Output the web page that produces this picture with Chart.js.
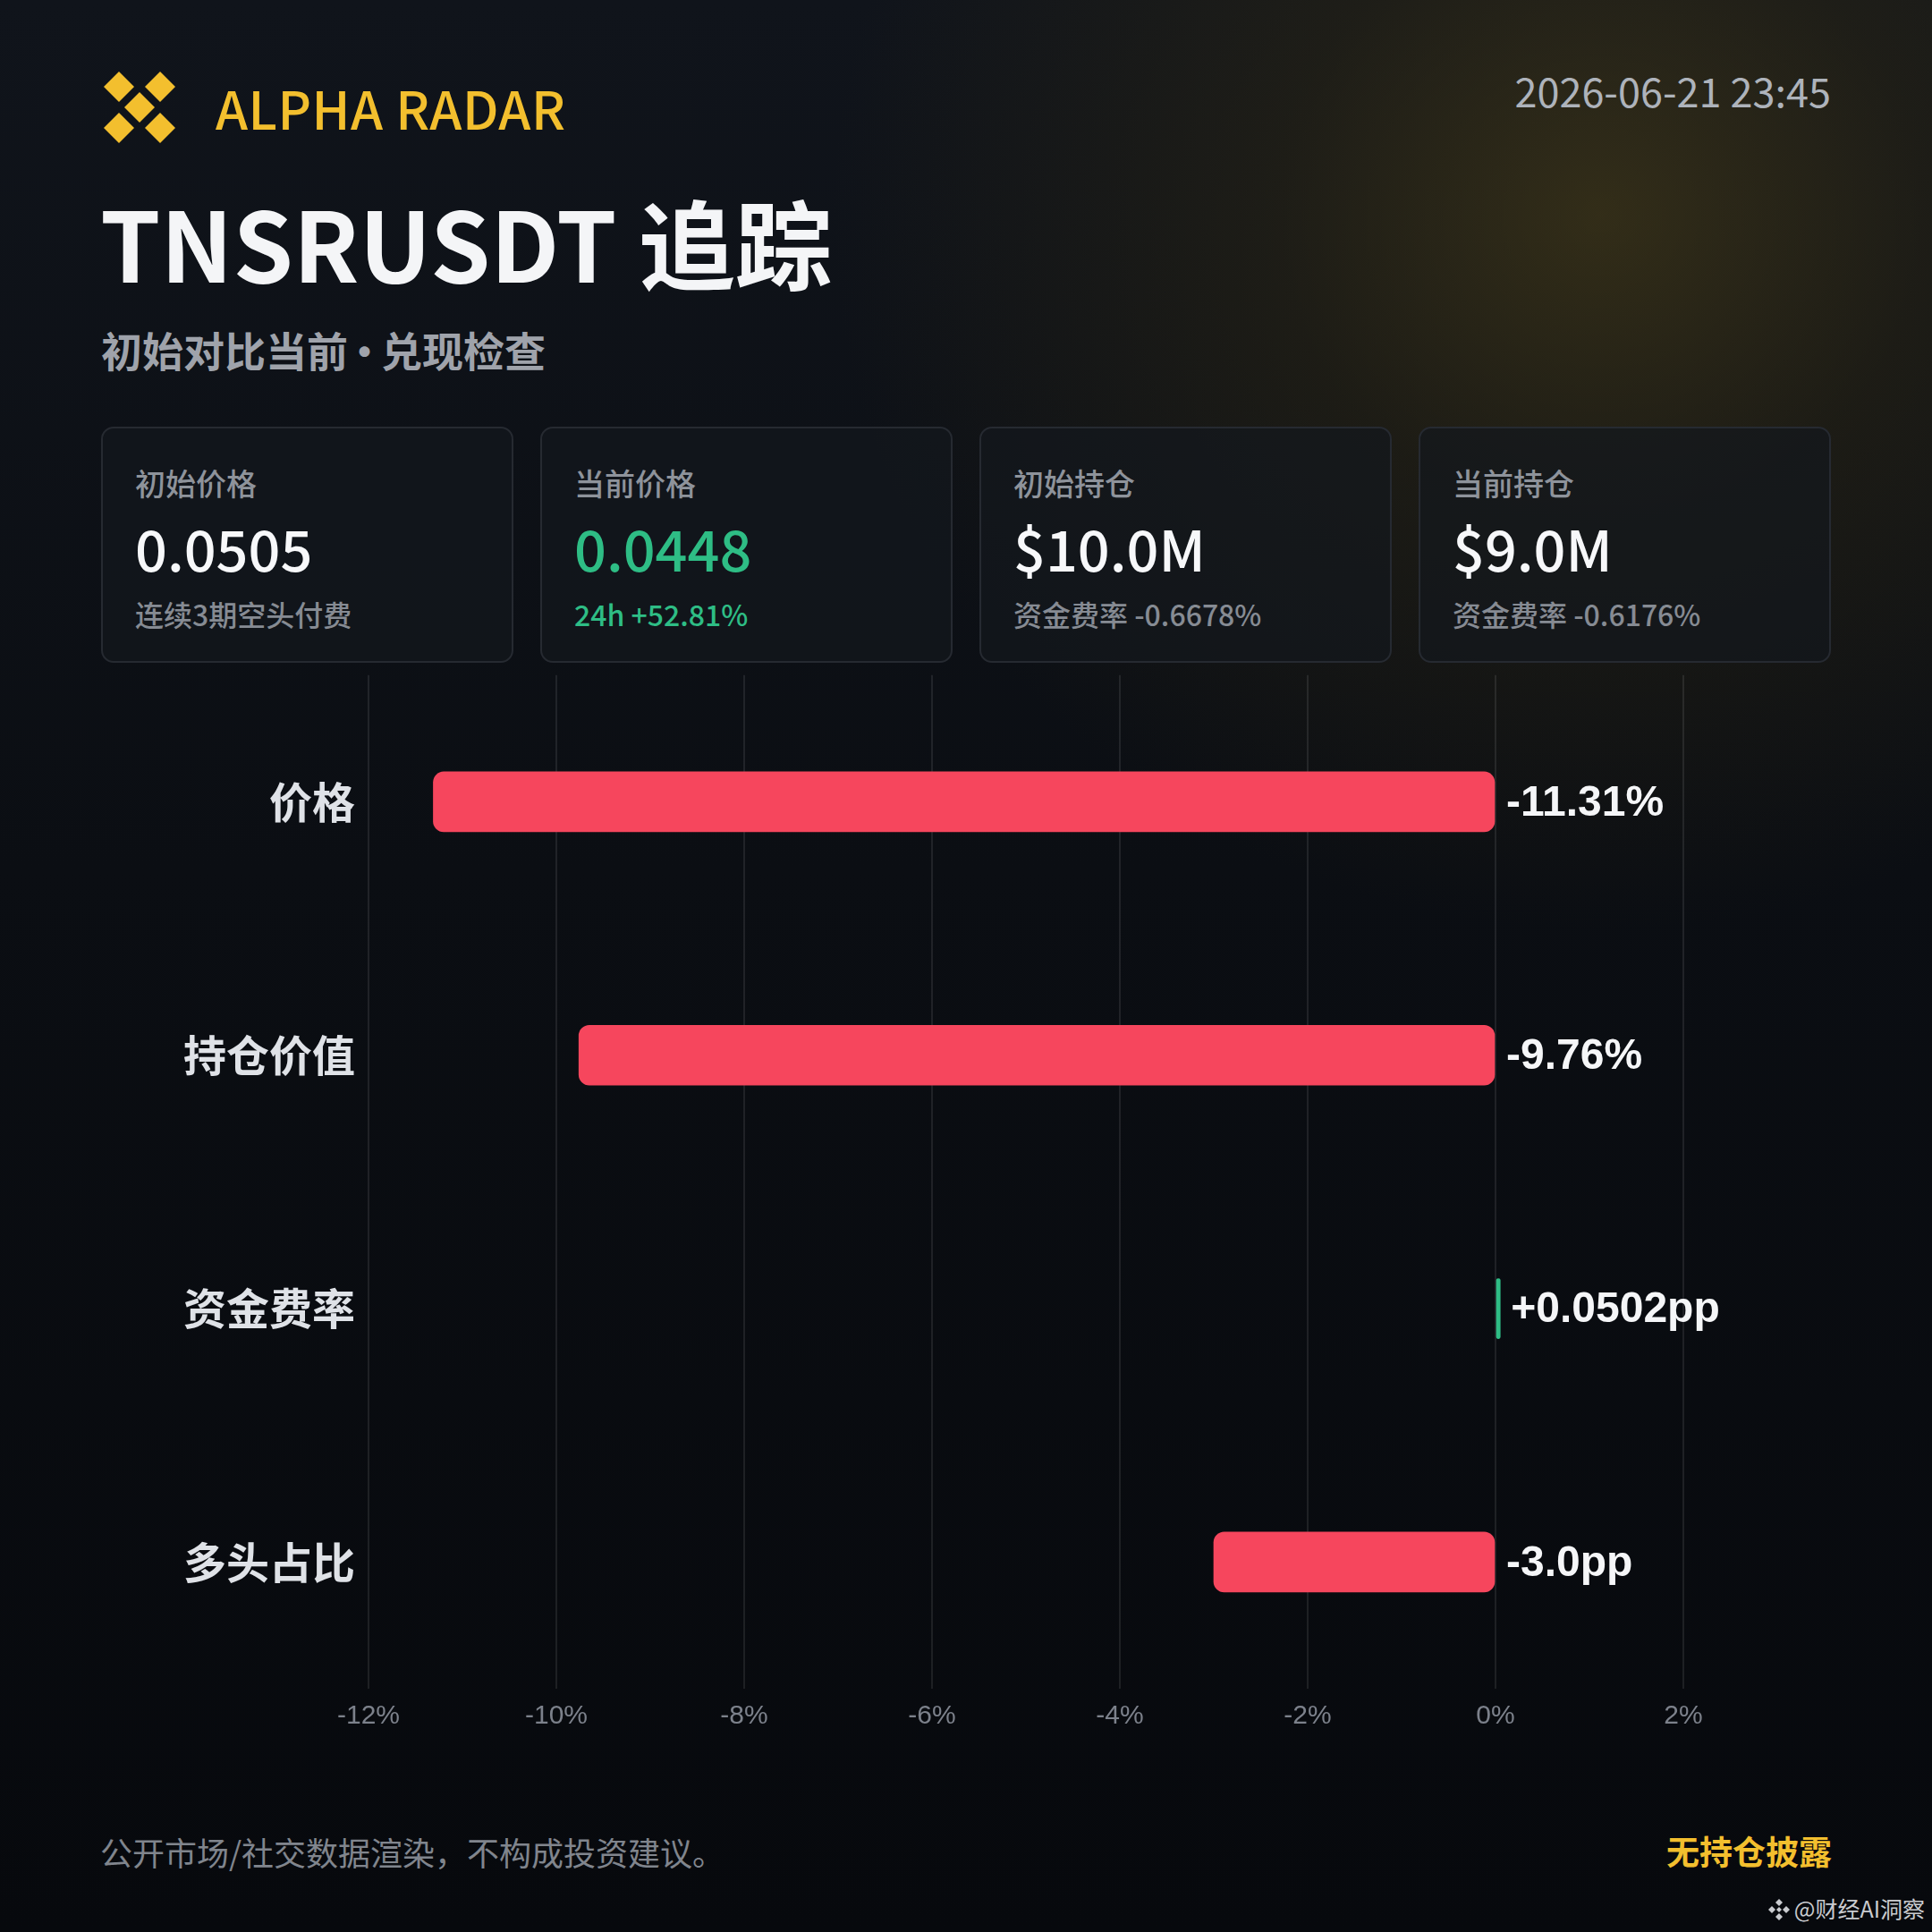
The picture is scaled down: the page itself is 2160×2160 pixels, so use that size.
<!DOCTYPE html>
<html>
<head>
<meta charset="utf-8">
<script src="https://cdn.jsdelivr.net/npm/chart.js@4.4.1/dist/chart.umd.min.js"></script>
<style>
  html, body { margin:0; padding:0; }
  body { width:2160px; height:2160px; position:relative; overflow:hidden;
    background:
      radial-gradient(ellipse 860px 800px at 1790px 240px, rgba(80,67,24,0.55) 0%, rgba(58,48,18,0.34) 42%, rgba(24,22,14,0) 100%),
      linear-gradient(180deg, #10141b 0%, #0b0e13 45%, #07090d 100%);
    font-family: "Noto Sans CJK SC", "Noto Sans", sans-serif; }
  .abs { position:absolute; white-space:nowrap; }
  #brand { left:241px; top:82px; font-size:58px; color:#f3bf2e; font-weight:500; line-height:76px; letter-spacing:0.5px; }
  #date { right:113px; top:71px; font-size:45px; color:#aeb3bb; line-height:60px; }
  #title { left:112px; top:194px; font-size:108px; font-weight:700; color:#f4f5f7; line-height:150px; }
  #subtitle { left:113px; top:358px; font-size:46px; font-weight:700; color:#9fa3ab; line-height:64px; word-spacing:-15px; }
  .card { position:absolute; top:477px; width:461px; height:264px; box-sizing:border-box;
    border:2px solid #262a31; border-radius:14px; background:rgba(20,23,29,0.72); }
  .card .lab { position:absolute; left:36px; top:37px; font-size:34px; color:#8e939b; line-height:48px; font-weight:500; }
  .card .val { position:absolute; left:36px; top:89px; font-size:63px; color:#f7f8fa; line-height:88px; font-weight:500; }
  .card .sub { position:absolute; left:36px; top:184px; font-size:32px; color:#868b93; line-height:46px; font-weight:500; }
  .green { color:#2ebd85 !important; }
  #chartwrap { position:absolute; left:0; top:719px; width:2160px; height:1282px; }
  #foot { left:112px; top:2046px; font-size:36px; color:#80858d; line-height:48px; }
  #disc { right:112px; top:2044px; font-size:37px; color:#f3bf2e; font-weight:700; line-height:50px; }
  #wm { right:8px; top:2116px; font-size:25px; color:#c9cbcf; line-height:34px; }
  #wm svg { vertical-align:-4px; margin-right:4px; }
</style>
</head>
<body>
<svg class="abs" style="left:110px;top:74px" width="92" height="92" viewBox="0 0 92 92">
  <g fill="#f3bf2e">
    <polygon points="23,6 40,23 23,40 6,23"/>
    <polygon points="69,6 86,23 69,40 52,23"/>
    <polygon points="46,29 63,46 46,63 29,46"/>
    <polygon points="23,52 40,69 23,86 6,69"/>
    <polygon points="69,52 86,69 69,86 52,69"/>
  </g>
</svg>
<div id="brand" class="abs">ALPHA RADAR</div>
<div id="date" class="abs">2026-06-21 23:45</div>
<div id="title" class="abs">TNSRUSDT 追踪</div>
<div id="subtitle" class="abs">初始对比当前 · 兑现检查</div>

<div class="card" style="left:113px"><div class="lab">初始价格</div><div class="val">0.0505</div><div class="sub">连续3期空头付费</div></div>
<div class="card" style="left:604px"><div class="lab">当前价格</div><div class="val green">0.0448</div><div class="sub green">24h +52.81%</div></div>
<div class="card" style="left:1095px"><div class="lab">初始持仓</div><div class="val">$10.0M</div><div class="sub">资金费率 -0.6678%</div></div>
<div class="card" style="left:1586px"><div class="lab">当前持仓</div><div class="val">$9.0M</div><div class="sub">资金费率 -0.6176%</div></div>

<div id="chartwrap"><canvas id="c" width="2160" height="1282"></canvas></div>

<div id="foot" class="abs">公开市场/社交数据渲染，不构成投资建议。</div>
<div id="disc" class="abs">无持仓披露</div>
<div id="wm" class="abs"><svg width="26" height="26" viewBox="0 0 26 26"><g fill="#c9cbcf"><polygon points="13,1 17,5 13,9 9,5"/><polygon points="5,9 9,13 5,17 1,13"/><polygon points="21,9 25,13 21,17 17,13"/><polygon points="13,17 17,21 13,25 9,21"/><polygon points="13,10 16,13 13,16 10,13"/></g></svg>@财经AI洞察</div>

<script>
const categories = ["价格", "持仓价值", "资金费率", "多头占比"];
const changeValues = [-11.31, -9.76, 0.0502, -3.0];
const valueLabels = ["-11.31%", "-9.76%", "+0.0502pp", "-3.0pp"];
const axisMin = -12;
const axisMax = 2;
const axisStep = 2;

const RED = "#f6465d", GREEN = "#2ebd85";

const valueLabelPlugin = {
  id: "valueLabels",
  afterDatasetsDraw(chart) {
    const ctx = chart.ctx;
    const meta = chart.getDatasetMeta(0);
    const xs = chart.scales.x;
    ctx.save();
    ctx.font = "bold 48px 'Liberation Sans', Arial, sans-serif";
    ctx.fillStyle = "#f5f6f8";
    ctx.textAlign = "left";
    ctx.textBaseline = "middle";
    meta.data.forEach((bar, i) => {
      const v = changeValues[i];
      const x = xs.getPixelForValue(Math.max(v, 0)) + 12;
      ctx.fillText(valueLabels[i], x, bar.y + 2);
    });
    ctx.restore();
  }
};

new Chart(document.getElementById("c"), {
  type: "bar",
  data: {
    labels: categories,
    datasets: [{
      data: changeValues,
      backgroundColor: changeValues.map(v => v < 0 ? RED : GREEN),
      barThickness: 67,
      borderRadius: 12,
      borderSkipped: false
    }]
  },
  options: {
    indexAxis: "y",
    responsive: false,
    animation: false,
    devicePixelRatio: 1,
    layout: { padding: { top: 15, right: 278, left: 0, bottom: 0 } },
    plugins: { legend: { display: false }, tooltip: { enabled: false } },
    scales: {
      x: {
        min: axisMin, max: axisMax,
        afterFit(s) { s.height = 113; },
        grid: { color: "rgba(255,255,255,0.09)", lineWidth: 2, drawTicks: false },
        border: { display: false },
        ticks: {
          stepSize: axisStep, padding: 13,
          color: "#7c818b",
          font: { family: "'Liberation Sans', Arial, sans-serif", size: 30 },
          callback: v => v + "%"
        }
      },
      y: {
        afterFit(s) { s.width = 412; },
        grid: { display: false },
        border: { display: false },
        ticks: {
          padding: 7,
          color: "#dfe2e7",
          font: { family: "'Noto Sans CJK SC', sans-serif", size: 48, weight: "bold" }
        }
      }
    }
  },
  plugins: [valueLabelPlugin]
});
</script>
</body>
</html>
